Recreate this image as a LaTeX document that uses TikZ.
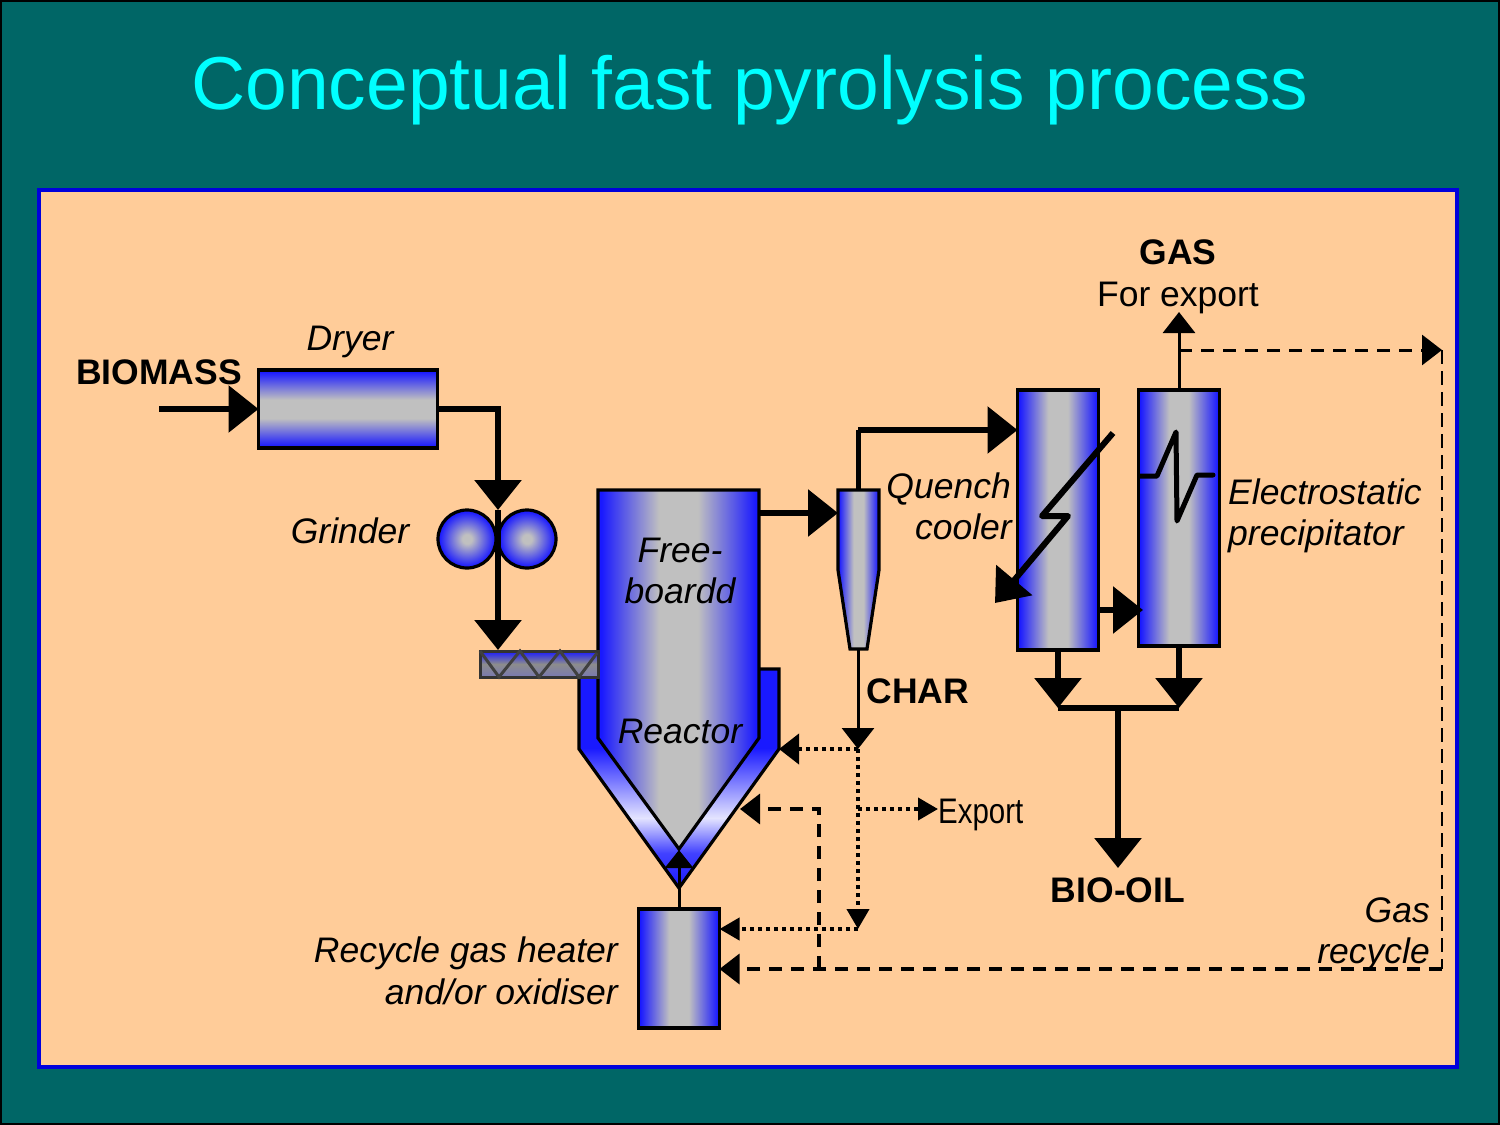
\documentclass[tikz,border=0pt]{standalone}
\usepackage{fontspec}
\setmainfont{Liberation Sans}
\usetikzlibrary{arrows.meta,calc}
\definecolor{SlideClr}{RGB}{0,102,102}
\definecolor{TitleClr}{RGB}{0,255,255}
\definecolor{PanelClr}{RGB}{255,204,153}
\definecolor{FrameClr}{RGB}{0,0,220}
\definecolor{BlueClr}{RGB}{25,25,255}
\definecolor{GreyClr}{RGB}{192,192,192}
\definecolor{PaleClr}{RGB}{228,228,255}
\pgfdeclareverticalshading{jacketshade}{100bp}{color(0bp)=(BlueClr); color(25bp)=(BlueClr); color(33bp)=(BlueClr!80!PaleClr); color(41bp)=(PaleClr); color(57bp)=(BlueClr); color(100bp)=(BlueClr)}
\pgfdeclarehorizontalshading{columnshade}{100bp}{color(0bp)=(BlueClr); color(26bp)=(BlueClr); color(44bp)=(GreyClr); color(56bp)=(GreyClr); color(74bp)=(BlueClr); color(100bp)=(BlueClr)}
\pgfdeclareverticalshading{lyingshade}{100bp}{color(0bp)=(BlueClr); color(26bp)=(BlueClr); color(44bp)=(GreyClr); color(56bp)=(GreyClr); color(74bp)=(BlueClr); color(100bp)=(BlueClr)}
\pgfdeclareradialshading{ballshade}{\pgfpointorigin}{color(0bp)=(GreyClr); color(4bp)=(GreyClr); color(24bp)=(BlueClr); color(50bp)=(BlueClr)}
\tikzset{
  column/.style={draw=black,line width=3.2pt,shading=columnshade,minimum width=81pt,inner sep=0pt,outer sep=0pt},
  lying/.style={draw=black,line width=3.2pt,shading=lyingshade,inner sep=0pt,outer sep=0pt},
  bigflow/.style={line width=6pt,-{Triangle[length=30pt,width=46pt]}},
  midflow/.style={line width=3pt,-{Triangle[length=21pt,width=32pt]}},
  pipe/.style={line width=6pt},
  dashflow/.style={line width=3.5pt,dash pattern=on 13pt off 9pt,-{Triangle[length=20pt,width=30pt]}},
  dotflow/.style={line width=4pt,dash pattern=on 4pt off 4pt,-{Triangle[length=20pt,width=22pt]}},
  slant/.style={font=\fontsize{35.5}{41}\selectfont\itshape,inner sep=0pt},
  plain/.style={font=\fontsize{35.5}{41}\selectfont,inner sep=0pt},
  heavy/.style={font=\fontsize{35.5}{41}\selectfont\bfseries,inner sep=0pt},
}

\begin{document}
\begin{tikzpicture}[x=1pt,y=-1pt]
\useasboundingbox (0,0) rectangle (1500,1125);
\fill[SlideClr] (0,0) rectangle (1500,1125);
\draw[black,line width=4pt] (0,0) rectangle (1500,1125);
\draw[FrameClr,line width=4pt,fill=PanelClr] (39,190) rectangle (1457,1067);

\foreach \name/\x/\y in {feed/159/409,roll/498/510,drop/498/650,
  rise/858/430,char/858/749,forkA/858/809,forkB/858/929,sell/938/809,
  gasTop/1179/312,gasTap/1179/350,gasEnd/1442/350,gasLow/1442/969,
  splitB/819/969,splitA/819/809,hot/740/809,
  sumA/1058/708,sumB/1179/708,sumC/1118/708,oil/1118/868,
  jack/679/850}
  \coordinate (\name) at (\x,\y);

\draw[line width=3.2pt,shading=jacketshade] (579,669) -- (779,669) -- (779,749) -- (679,888) -- (579,749) -- cycle;
\draw[line width=3.2pt,shading=columnshade] (598,490) -- (759,490) -- (759,738) -- (679,849) -- (598,738) -- cycle;
\coordinate (reactorT) at (759,513);
\coordinate (reactorJ) at (779,749);

\draw[draw=black!80,line width=3pt,top color=BlueClr,bottom color=BlueClr!45!black!55,middle color=black!45] (480,651) rectangle (598,677);
\draw[black!75,line width=3pt] (480,651) -- (499,677) -- (520,651) -- (539,677) -- (560,651) -- (579,677) -- (597,653);

\shade[shading=ballshade] (467,539) circle (29);
\shade[shading=ballshade] (527,539) circle (29);
\draw[line width=3.2pt] (467,539) circle (29) (527,539) circle (29);

\node[lying,minimum width=179pt,minimum height=78pt] (dryer) at (348,409) {};
\node[column,minimum height=260pt] (quench) at (1058,520) {};
\node[column,minimum height=256pt] (precip) at (1179,518) {};
\node[column,minimum height=119pt] (heater) at (679,968.5) {};
\draw[line width=3.2pt,shading=columnshade] (838,490) -- (879,490) -- (879,570) -- (867,649) -- (850,649) -- (838,570) -- cycle;
\coordinate (cycloneT) at (858,490);
\coordinate (cycloneL) at (838,513);
\coordinate (cycloneB) at (858,649);

\draw[bigflow] (feed) -- (dryer.west);
\draw[bigflow] (dryer.east) -| (roll);
\draw[bigflow] (roll) -- (drop);
\draw[bigflow] (reactorT) -- (cycloneL);
\draw[line width=5pt] (cycloneT) |- (rise);
\draw[bigflow] (rise) -- (quench.west|-rise);
\draw[midflow] (cycloneB) -- (char);
\draw[dotflow,-{Triangle[length=20pt,width=30pt]}] (char) -- (reactorJ);
\draw[dotflow] (char) -- (forkB);
\draw[dotflow] (forkA) -- (sell);
\draw[dotflow] (forkB) -- (heater.east|-forkB);
\draw[dashflow] (gasLow) -- (heater.east|-gasLow);
\draw[dashflow] (splitB) -- (splitA) -- (hot);
\draw[midflow] (precip.north) -- (gasTop);
\draw[line width=3pt,dash pattern=on 13pt off 9pt,-{Triangle[length=20pt,width=30pt]}] (gasTap) -- (gasEnd);
\draw[line width=2.5pt,dash pattern=on 14pt off 7pt] (gasEnd) -- (gasLow);
\draw[midflow,-{Triangle[length=18pt,width=28pt]}] (heater.north) -- (jack);

\draw[bigflow] (quench.east|-0,610) -- (1143,610);
\draw[bigflow] (quench.south) -- (sumA);
\draw[bigflow] (precip.south) -- (sumB);
\draw[pipe] (sumA) -- (sumB);
\draw[bigflow] (sumC) -- (oil);

\coordinate (boltA) at (1113,433);
\coordinate (boltB) at (1042,516);
\coordinate (boltC) at (1068,516);
\coordinate (boltD) at (995,603);
\draw[bigflow,line join=round] (boltA) -- (boltB) -- (boltC) -- (boltD);
\coordinate (sparkA) at (1140,476);
\coordinate (sparkE) at (1213,475);
\draw[line width=5pt,line join=round,line cap=round] (sparkA) -- (1157,476) -- (1176,432) -- (1177,521) -- (1197,475) -- (sparkE);

\node[anchor=base,text=TitleClr,font=\fontsize{75}{90}\selectfont,inner sep=0pt] (title) at (750,109) {Conceptual fast pyrolysis process};
\node[heavy,anchor=base] (biomass) at (159,384) {BIOMASS};
\node[slant,anchor=base] (dryerT) at (350,350) {Dryer};
\node[slant,anchor=base] (grinderT) at (350,543) {Grinder};
\node[slant,anchor=base] (freeT) at (680,562) {Free-};
\node[slant,anchor=base] (boardT) at (680,603) {boardd};
\node[slant,anchor=base] (reactorN) at (680,743) {Reactor};
\node[slant,anchor=base east] (quenchT) at (1011,498) {Quench};
\node[slant,anchor=base east] (coolerT) at (1012,539) {cooler};
\node[slant,anchor=base west] (electroT) at (1228,504) {Electrostatic};
\node[slant,anchor=base west] (precipT) at (1228,545) {precipitator};
\node[heavy,anchor=base] (gasT) at (1178,264) {GAS};
\node[plain,anchor=base] (exportT) at (1178,306) {For export};
\node[heavy,anchor=base] (charT) at (918,703) {CHAR};
\node[plain,anchor=base west,xscale=.83,transform shape] (sellT) at (938,823) {Export};
\node[heavy,anchor=base] (oilT) at (1118,902) {BIO-OIL};
\node[slant,anchor=base east] (heaterA) at (618,962) {Recycle gas heater};
\node[slant,anchor=base east] (heaterB) at (618,1004) {and/or oxidiser};
\node[slant,anchor=base east] (recycleA) at (1430,922) {Gas};
\node[slant,anchor=base east] (recycleB) at (1430,963) {recycle};
\end{tikzpicture}
\end{document}
